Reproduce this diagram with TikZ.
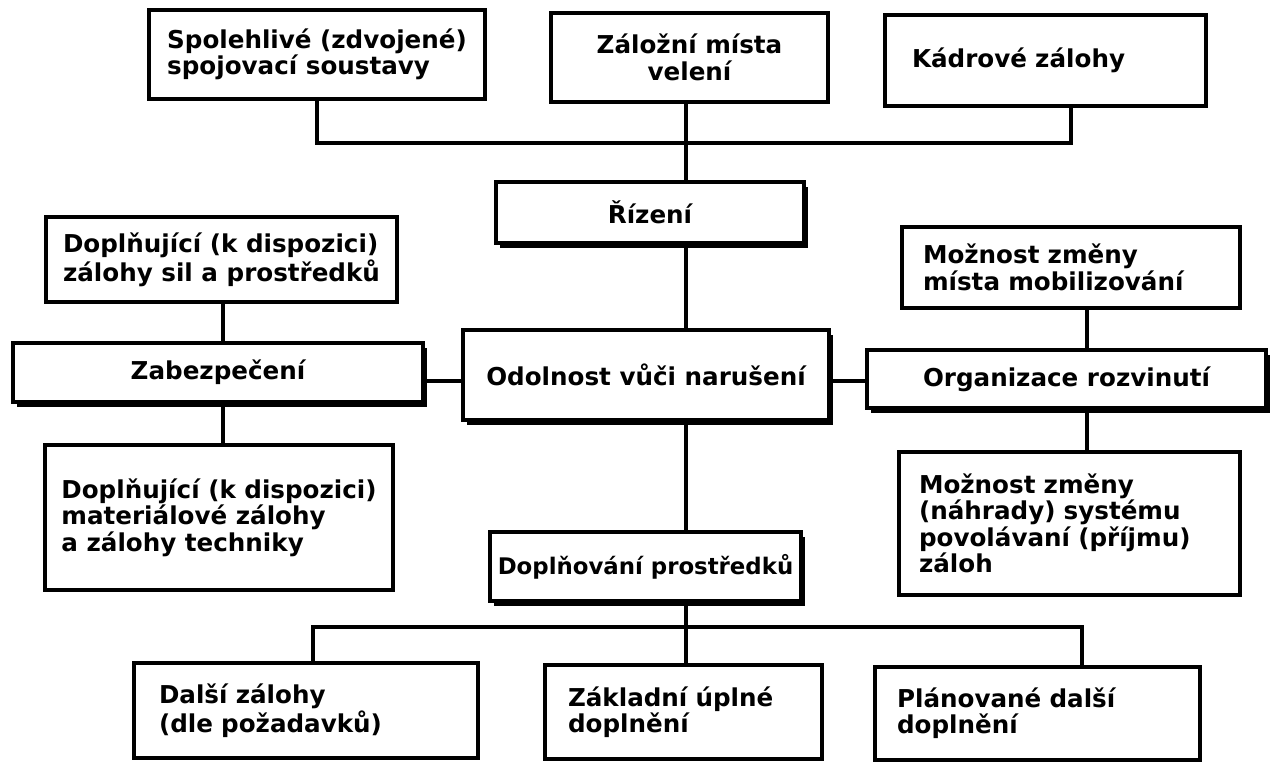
\documentclass[tikz,border=0pt]{standalone}
\usepackage{fontspec}
\setmainfont{DejaVu Sans}
\usetikzlibrary{shadows}

\begin{document}
\begin{tikzpicture}[x=0.02cm, y=-0.02cm,
  box/.style={draw, fill=white, line width=2pt, align=left, inner sep=0pt,
    font=\bfseries\fontsize{14}{15}\selectfont},
  hlavni/.style={box, align=center,
    drop shadow={shadow xshift=0.08cm, shadow yshift=-0.1cm, fill=black, opacity=1}},
  cara/.style={line width=2pt}]
\fill [white] (0,0) rectangle (1274,762);
\useasboundingbox (0,0) rectangle (1274,762);
%
% horni rada
\node [box, minimum width=6.72cm, minimum height=1.78cm] (spoj) at (317,54.5)
  {Spolehlivé (zdvojené)\\spojovací soustavy};
\node [box, align=center, minimum width=5.54cm, minimum height=1.78cm] (vel) at (689.5,57.5)
  {Záložní místa\\velení};
\node [box, text width=5.34cm, inner xsep=0.54cm, minimum height=1.82cm] (kadr) at (1045.5,60.5)
  {Kádrové zálohy};
%
\node [hlavni, minimum width=6.16cm, minimum height=1.22cm] (riz) at (650,212.5) {Řízení};
%
% leva strana
\node [box, minimum width=7.02cm, minimum height=1.70cm] (doplsil) at (221.5,259.5)
  {Doplňující (k dispozici)\\zálohy sil a prostředků};
\node [hlavni, minimum width=8.20cm, minimum height=1.18cm] (zab) at (218,372.5) {Zabezpečení};
\node [box, minimum width=6.96cm, minimum height=2.90cm] (mat) at (219,517.5)
  {Doplňující (k dispozici)\\materiálové zálohy\\a zálohy techniky};
%
% stred
\node [hlavni, minimum width=7.32cm, minimum height=1.80cm] (odol) at (646,375) {Odolnost vůči narušení};
\node [hlavni, minimum width=6.22cm, minimum height=1.38cm,
  font=\bfseries\fontsize{13}{14}\selectfont] (dopl) at (645.5,566.5) {Doplňování prostředků};
%
% prava strana
\node [box, text width=5.92cm, inner xsep=0.42cm, minimum height=1.62cm] (mozn1) at (1071,267.5)
  {Možnost změny\\místa mobilizování};
\node [hlavni, minimum width=7.98cm, minimum height=1.16cm] (org) at (1066.5,379) {Organizace rozvinutí};
\node [box, text width=6.02cm, inner xsep=0.40cm, minimum height=2.86cm] (mozn2) at (1069.5,523.5)
  {Možnost změny\\(náhrady) systému\\povolávaní (příjmu)\\záloh};
%
% dolni rada
\node [box, text width=5.88cm, inner xsep=0.5cm, minimum height=1.90cm] (dalsi) at (306,710.5)
  {Další zálohy\\(dle požadavků)};
\node [box, text width=4.62cm, inner xsep=0.46cm, minimum height=1.88cm] (zakl) at (683.5,712)
  {Základní úplné\\doplnění};
\node [box, text width=5.62cm, inner xsep=0.44cm, minimum height=1.86cm] (plan) at (1037.5,713.5)
  {Plánované další\\doplnění};
%
\coordinate (osa) at (686,0);
\coordinate (lx) at (223,0);
\coordinate (px) at (1087,0);
\coordinate (stred) at (0,381);
\coordinate (kk) at (1071,143);
\coordinate (d1) at (313,627);
\coordinate (d3) at (1082,627);
%
\draw [cara] (spoj.south) |- (kk) -- (kk |- kadr.south);
\draw [cara] (vel.south -| osa) -- (riz.north -| osa);
\draw [cara] (riz.south -| osa) -- (odol.north -| osa);
\draw [cara] (odol.south -| osa) -- (dopl.north -| osa);
\draw [cara] (dopl.south -| osa) -- (zakl.north -| osa);
\draw [cara] (dalsi.north -| d1) -- (d1) -- (d3) -- (plan.north -| d3);
%
\draw [cara] (doplsil.south -| lx) -- (zab.north -| lx);
\draw [cara] (zab.south -| lx) -- (mat.north -| lx);
\draw [cara] (zab.east |- stred) -- (odol.west |- stred);
\draw [cara] (odol.east |- stred) -- (org.west |- stred);
\draw [cara] (mozn1.south -| px) -- (org.north -| px);
\draw [cara] (org.south -| px) -- (mozn2.north -| px);
%
\end{tikzpicture}
\end{document}
